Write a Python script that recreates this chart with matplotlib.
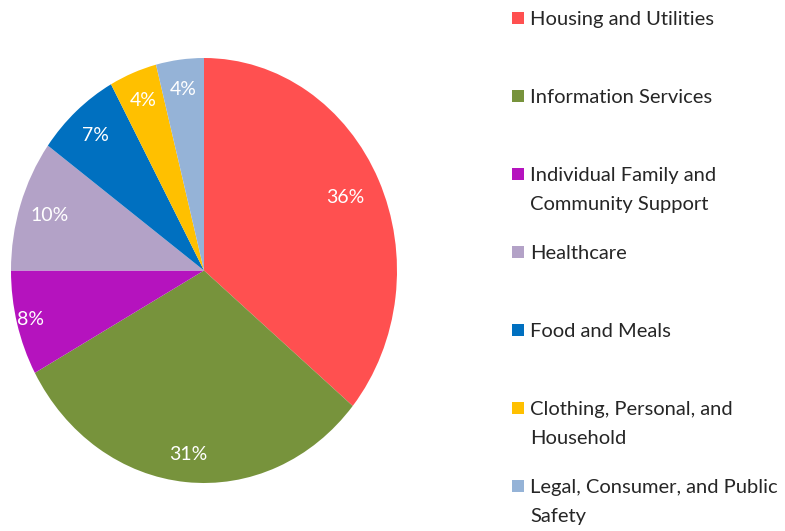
import matplotlib
matplotlib.use("Agg")
import matplotlib.pyplot as plt

categories = ["Housing and Utilities", "Information Services",
              "Individual Family and\nCommunity Support", "Healthcare",
              "Food and Meals", "Clothing, Personal, and\nHousehold",
              "Legal, Consumer, and Public\nSafety"]
values = [36, 31, 8, 10, 7, 4, 4]
colors = ["#FF5050", "#77933C", "#B513BE", "#B3A2C7", "#0070C0", "#FFC000", "#95B3D7"]
label_r = [0.81, 0.87, 0.93, 0.84, 0.85, 0.86, 0.86]

W, H = 785, 531
fig = plt.figure(figsize=(W / 100, H / 100), dpi=100)
fig.patch.set_facecolor("white")
FONT = ["Lato", "DejaVu Sans"]

ax = fig.add_axes([11 / W, (H - 483) / H, 386 / W, 425 / H])
wedges, texts, autotexts = ax.pie(values, colors=colors, startangle=90, counterclock=False,
                                  autopct=lambda p: f"{p:.0f}%", pctdistance=1.0,
                                  wedgeprops=dict(linewidth=0),
                                  textprops=dict(color="white", fontsize=14, family=FONT))
for t, r in zip(autotexts, label_r):
    x, y = t.get_position()
    t.set_position((x * r, y * r))
ax.set_aspect("auto")
ax.set_xlim(-1, 1)
ax.set_ylim(-1, 1)
ax.axis("off")

for i, (c, col) in enumerate(zip(categories, colors)):
    ytop = 18 + i * 78
    fig.patches.append(plt.Rectangle((512 / W, 1 - (ytop + 6) / H), 12 / W, 12 / H,
                                     transform=fig.transFigure, facecolor=col, edgecolor="none"))
    fig.text(530 / W, 1 - (ytop - 7) / H, c, ha="left", va="top", fontsize=14.5,
             family=FONT, color="#262626", linespacing=1.85)

fig.savefig("out.png", dpi=100)
